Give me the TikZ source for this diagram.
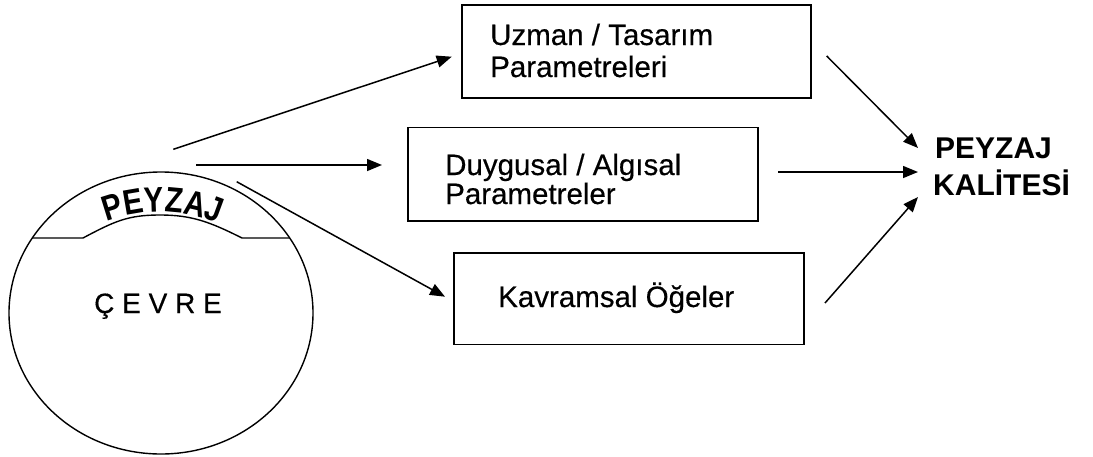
\documentclass[tikz,border=0pt]{standalone}
\usepackage{fontspec}
\usepackage{graphicx}
\setmainfont{Liberation Sans}
\newfontfamily\heavyfont[FakeBold=0.4]{Liberation Sans}
\usetikzlibrary{arrows.meta,shapes.geometric}
\newcommand{\tallch}[1]{\scalebox{1}[1.2]{#1}}
\begin{document}
\begin{tikzpicture}[x=1pt,y=-1pt,
  box/.style={draw, line width=1.6pt, inner sep=0pt, anchor=north west},
  lbl/.style={anchor=base west, inner sep=0pt, font=\heavyfont\fontsize{29.5}{30}\selectfont},
  big/.style={anchor=base west, inner sep=0pt, font=\fontsize{30}{30}\selectfont\bfseries},
  ltr/.style={anchor=base, inner sep=0pt, font=\fontsize{29.5}{30}\selectfont\bfseries},
  arr/.style={line width=1.5pt, -{Triangle[length=15pt,width=12pt]}},
  thin/.style={line width=1.4pt}]
\useasboundingbox (0,0) rectangle (1093,456);
% environment ellipse
\node[draw, thin, ellipse, inner sep=0pt, minimum width=304pt, minimum height=282pt] (env) at (161,313) {};
\draw[thin] (32.3,238) -- (83,238) .. controls (115,221) and (128,215) .. (160,215)
  .. controls (192,215) and (210,222) .. (242,238) -- (289.7,238);
\node[anchor=base west, inner sep=0pt, font=\heavyfont\fontsize{28}{28}\selectfont] (cevre) at (94,313) {Ç E V R E};
% curved PEYZAJ
\node[ltr, rotate=17.3] (p1) at (116.3,218.8) {\tallch{P}};
\node[ltr, rotate=9.7] (p2) at (135.2,214.1) {\tallch{E}};
\node[ltr, rotate=2.1] (p3) at (154.6,212.1) {\tallch{Y}};
\node[ltr, rotate=-5.3] (p4) at (173.4,212.6) {\tallch{Z}};
\node[ltr, rotate=-13.0] (p5) at (192.6,215.8) {\tallch{A}};
\node[ltr, rotate=-20.2] (p6) at (210.4,220.8) {\tallch{J}};
% boxes
\node[box, minimum width=349pt, minimum height=93pt] (b1) at (461,4) {};
\node[box, minimum width=350pt, minimum height=93.5pt] (b2) at (407,126.5) {};
\node[box, minimum width=350pt, minimum height=91.5pt] (b3) at (453,252) {};
\node[lbl] (t1a) at (490,45) {Uzman / Tasarım};
\node[lbl] (t1b) at (490,77) {Parametreleri};
\node[lbl] (t2a) at (445,175) {Duygusal / Algısal};
\node[lbl] (t2b) at (445,204) {Parametreler};
\node[lbl] (t3) at (498,307) {Kavramsal Öğeler};
% result
\node[big] (k1) at (935,158) {PEYZAJ};
\node[big] (k2) at (933,195) {KALİTESİ};
% arrow end points
\coordinate (s1) at (173.3,149.3); \coordinate (e1) at (451.7,56.7);
\coordinate (s2) at (196,165);     \coordinate (e2) at (382,165);
\coordinate (s3) at (236.7,181.7); \coordinate (e3) at (445,296.7);
\coordinate (s4) at (826.7,56);    \coordinate (e4) at (918,148);
\coordinate (s5) at (778,172);     \coordinate (e5) at (918,172);
\coordinate (s6) at (825,303);     \coordinate (e6) at (918,197);
\draw[arr] (s1) -- (e1);
\draw[arr] (s2) -- (e2);
\draw[arr] (s3) -- (e3);
\draw[arr] (s4) -- (e4);
\draw[arr] (s5) -- (e5);
\draw[arr] (s6) -- (e6);
\end{tikzpicture}
\end{document}
